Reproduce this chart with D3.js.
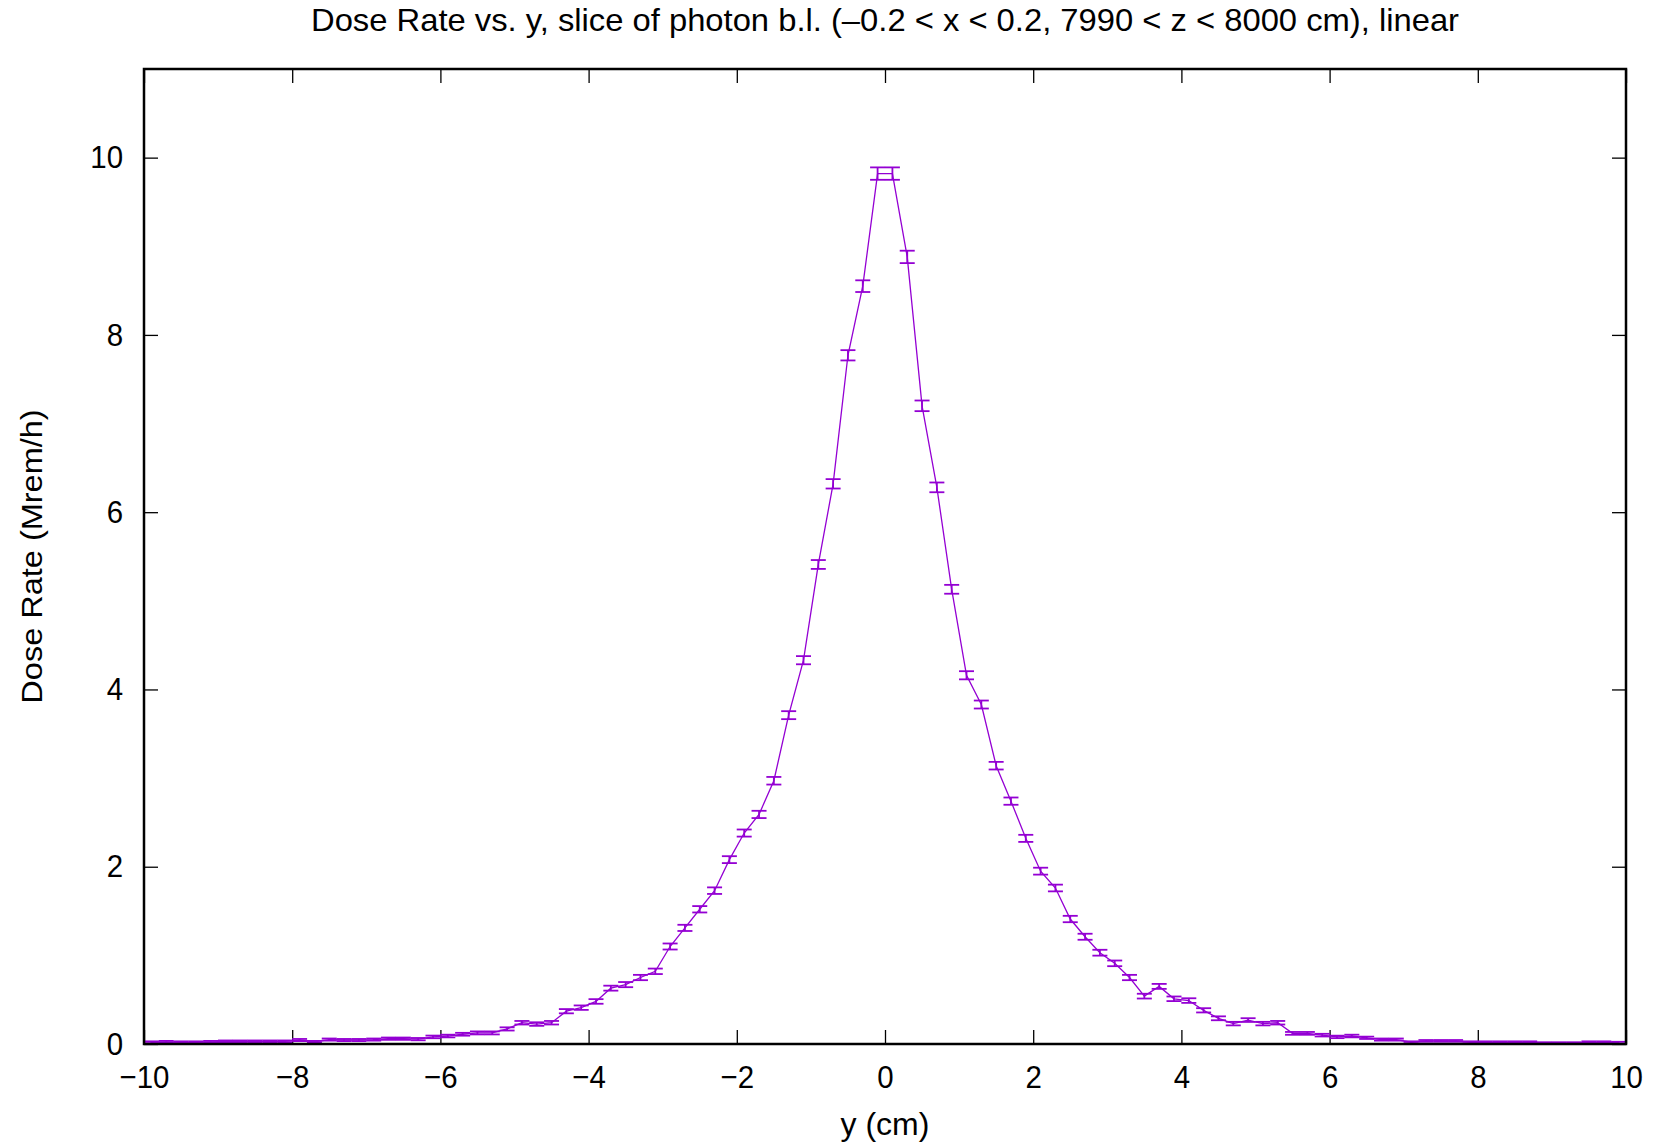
<!DOCTYPE html>
<html>
<head>
<meta charset="utf-8">
<script src="https://cdn.jsdelivr.net/npm/d3@7"></script>
<style>
  body { margin: 0; background: #fff; }
  text { font-family: "Liberation Sans", Arial, sans-serif; fill: #000; }
</style>
</head>
<body>
<div id="chart"></div>
<script>
const width = 1675, height = 1145;
const margin = { top: 69, right: 49, bottom: 101, left: 144 };

// bin centres (cm)
const yCentres = [
  -9.9, -9.7, -9.5, -9.3, -9.1, -8.9, -8.7, -8.5, -8.3, -8.1,
  -7.9, -7.7, -7.5, -7.3, -7.1, -6.9, -6.7, -6.5, -6.3, -6.1,
  -5.9, -5.7, -5.5, -5.3, -5.1, -4.9, -4.7, -4.5, -4.3, -4.1,
  -3.9, -3.7, -3.5, -3.3, -3.1, -2.9, -2.7, -2.5, -2.3, -2.1,
  -1.9, -1.7, -1.5, -1.3, -1.1, -0.9, -0.7, -0.5, -0.3, -0.1,
  0.1, 0.3, 0.5, 0.7, 0.9, 1.1, 1.3, 1.5, 1.7, 1.9,
  2.1, 2.3, 2.5, 2.7, 2.9, 3.1, 3.3, 3.5, 3.7, 3.9,
  4.1, 4.3, 4.5, 4.7, 4.9, 5.1, 5.3, 5.5, 5.7, 5.9,
  6.1, 6.3, 6.5, 6.7, 6.9, 7.1, 7.3, 7.5, 7.7, 7.9,
  8.1, 8.3, 8.5, 8.7, 8.9, 9.1, 9.3, 9.5, 9.7, 9.9
];

// dose rate (Mrem/h)
const doseRate = [
  0.02, 0.025, 0.02, 0.02, 0.025, 0.03, 0.03, 0.03, 0.03, 0.03,
  0.045, 0.025, 0.05, 0.045, 0.045, 0.05, 0.06, 0.06, 0.055, 0.08,
  0.09, 0.11, 0.125, 0.125, 0.17, 0.24, 0.225, 0.24, 0.37, 0.41,
  0.48, 0.63, 0.67, 0.75, 0.82, 1.10, 1.31, 1.52, 1.73, 2.08,
  2.38, 2.59, 2.97, 3.71, 4.33, 5.41, 6.32, 7.77, 8.55, 9.82,
  9.82, 8.88, 7.20, 6.28, 5.13, 4.16, 3.83, 3.14, 2.74, 2.32,
  1.95, 1.76, 1.41, 1.21, 1.03, 0.91, 0.75, 0.54, 0.65, 0.51,
  0.49, 0.38, 0.29, 0.23, 0.27, 0.23, 0.24, 0.12, 0.12, 0.10,
  0.08, 0.09, 0.07, 0.05, 0.05, 0.02, 0.035, 0.035, 0.035, 0.02,
  0.02, 0.02, 0.02, 0.02, 0.01, 0.01, 0.01, 0.02, 0.02, 0.015
];

// statistical error (Mrem/h)
const doseErr = [
  0.01, 0.01, 0.01, 0.01, 0.01, 0.01, 0.01, 0.01, 0.01, 0.01,
  0.012, 0.01, 0.012, 0.012, 0.012, 0.012, 0.013, 0.013, 0.013, 0.015,
  0.015, 0.016, 0.017, 0.017, 0.018, 0.02, 0.02, 0.02, 0.024, 0.025,
  0.026, 0.028, 0.029, 0.03, 0.031, 0.034, 0.035, 0.036, 0.037, 0.039,
  0.04, 0.041, 0.043, 0.045, 0.046, 0.05, 0.053, 0.058, 0.066, 0.07,
  0.07, 0.07, 0.06, 0.055, 0.05, 0.046, 0.045, 0.043, 0.041, 0.04,
  0.039, 0.038, 0.036, 0.034, 0.033, 0.032, 0.03, 0.027, 0.028, 0.026,
  0.026, 0.024, 0.022, 0.02, 0.021, 0.02, 0.02, 0.016, 0.016, 0.015,
  0.014, 0.015, 0.013, 0.012, 0.012, 0.01, 0.01, 0.01, 0.01, 0.01,
  0.01, 0.01, 0.01, 0.01, 0.01, 0.01, 0.01, 0.01, 0.01, 0.01
];

const xTicks = [-10, -8, -6, -4, -2, 0, 2, 4, 6, 8, 10];
const yTicks = [0, 2, 4, 6, 8, 10];

const data = yCentres.map((y, i) => ({ y: y, v: doseRate[i], e: doseErr[i] }));

const innerW = width - margin.left - margin.right;
const innerH = height - margin.top - margin.bottom;
const color = "#9400d3";

const svg = d3.select("#chart").append("svg")
    .attr("width", width)
    .attr("height", height);

const x = d3.scaleLinear().domain([-10, 10]).range([0, innerW]);
const y = d3.scaleLinear().domain([0, 11]).range([innerH, 0]);

const g = svg.append("g")
    .attr("transform", `translate(${margin.left},${margin.top})`);

const fmt = d => d3.format("d")(d).replace("-", "\u2013");

// axes, ticks pointing inward on all four sides
const tickLen = 14;
g.append("g")
    .attr("transform", `translate(0,${innerH})`)
    .call(d3.axisBottom(x).tickValues(xTicks).tickSize(-tickLen).tickPadding(21).tickFormat(fmt));
g.append("g")
    .call(d3.axisTop(x).tickValues(xTicks).tickSize(-tickLen).tickFormat(""));
g.append("g")
    .call(d3.axisLeft(y).tickValues(yTicks).tickSize(-tickLen).tickPadding(21).tickFormat(fmt));
g.append("g")
    .attr("transform", `translate(${innerW},0)`)
    .call(d3.axisRight(y).tickValues(yTicks).tickSize(-tickLen).tickFormat(""));

g.selectAll(".domain").remove();
g.selectAll(".tick line").attr("stroke", "#000").attr("stroke-width", 1.3);
g.selectAll(".tick text").attr("font-size", 32).attr("font-family", "Liberation Sans, Arial, sans-serif");

// data line
const line = d3.line().x(d => x(d.y)).y(d => y(d.v));
g.append("path")
    .datum(data)
    .attr("fill", "none")
    .attr("stroke", color)
    .attr("stroke-width", 1.3)
    .attr("d", line);

// error bars
const capW = 7.5;
const bars = g.append("g")
    .attr("stroke", color)
    .attr("stroke-width", 1.8)
    .selectAll("g")
    .data(data)
    .enter().append("g");

bars.append("line")
    .attr("x1", d => x(d.y)).attr("x2", d => x(d.y))
    .attr("y1", d => y(d.v - d.e)).attr("y2", d => y(d.v + d.e));
bars.append("line")
    .attr("x1", d => x(d.y) - capW).attr("x2", d => x(d.y) + capW)
    .attr("y1", d => y(d.v + d.e)).attr("y2", d => y(d.v + d.e));
bars.append("line")
    .attr("x1", d => x(d.y) - capW).attr("x2", d => x(d.y) + capW)
    .attr("y1", d => y(d.v - d.e)).attr("y2", d => y(d.v - d.e));

// frame
g.append("rect")
    .attr("width", innerW)
    .attr("height", innerH)
    .attr("fill", "none")
    .attr("stroke", "#000")
    .attr("stroke-width", 2.5);

// title and axis labels
svg.append("text")
    .attr("x", margin.left + innerW / 2)
    .attr("y", 31)
    .attr("text-anchor", "middle")
    .attr("font-size", 32)
    .attr("textLength", 1148)
    .attr("lengthAdjust", "spacingAndGlyphs")
    .text("Dose Rate vs. y, slice of photon b.l. (\u20130.2 < x < 0.2, 7990 < z < 8000 cm), linear");

svg.append("text")
    .attr("x", margin.left + innerW / 2)
    .attr("y", 1135)
    .attr("text-anchor", "middle")
    .attr("font-size", 32)
    .text("y (cm)");

svg.append("text")
    .attr("transform", `translate(42,${margin.top + innerH / 2}) scale(0.92,1) rotate(-90)`)
    .attr("text-anchor", "middle")
    .attr("font-size", 32.5)
    .text("Dose Rate (Mrem/h)");

// the reference tick glyphs are slightly narrower than Liberation Sans
svg.selectAll(".tick text").each(function () {
    const w = this.getComputedTextLength();
    if (w > 0) {
        d3.select(this)
            .attr("textLength", w * 0.92)
            .attr("lengthAdjust", "spacingAndGlyphs");
    }
});
</script>
</body>
</html>
